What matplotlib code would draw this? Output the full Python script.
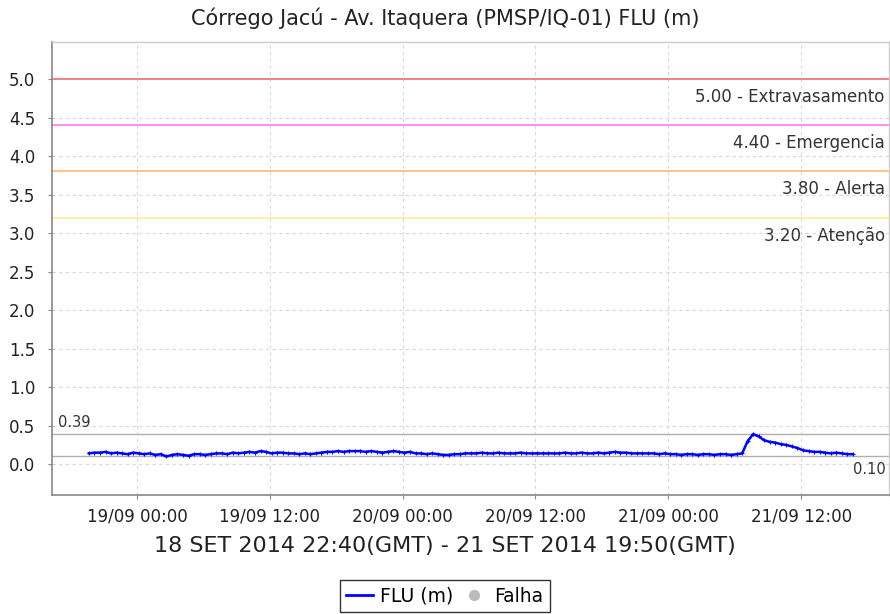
import matplotlib
matplotlib.use("Agg")
import matplotlib.pyplot as plt
import matplotlib.dates as mdates
from matplotlib.lines import Line2D
import pandas as pd
import numpy as np

title = "Córrego Jacú - Av. Itaquera (PMSP/IQ-01) FLU (m)"
xlabel = "18 SET 2014 22:40(GMT) - 21 SET 2014 19:50(GMT)"

start_time = "2014-09-18 19:40"
flu_values = [
    0.14, 0.15, 0.15, 0.16, 0.14, 0.15, 0.14, 0.13, 0.15, 0.14,
    0.13, 0.14, 0.12, 0.13, 0.10, 0.12, 0.13, 0.12, 0.11, 0.13,
    0.13, 0.12, 0.13, 0.14, 0.14, 0.13, 0.15, 0.14, 0.15, 0.16,
    0.15, 0.17, 0.16, 0.14, 0.15, 0.15, 0.14, 0.14, 0.13, 0.14,
    0.13, 0.14, 0.15, 0.16, 0.16, 0.17, 0.16, 0.17, 0.17, 0.17,
    0.16, 0.17, 0.16, 0.15, 0.16, 0.17, 0.16, 0.15, 0.16, 0.14,
    0.14, 0.13, 0.14, 0.13, 0.12, 0.12, 0.13, 0.13, 0.14, 0.14,
    0.14, 0.15, 0.14, 0.14, 0.15, 0.14, 0.14, 0.14, 0.15, 0.14,
    0.14, 0.14, 0.14, 0.14, 0.14, 0.14, 0.15, 0.14, 0.14, 0.15,
    0.14, 0.14, 0.15, 0.14, 0.15, 0.16, 0.15, 0.15, 0.14, 0.14,
    0.14, 0.14, 0.14, 0.13, 0.14, 0.13, 0.13, 0.12, 0.13, 0.13,
    0.12, 0.13, 0.13, 0.12, 0.13, 0.13, 0.12, 0.13, 0.14, 0.30,
    0.39, 0.36, 0.31, 0.29, 0.28, 0.26, 0.25, 0.23, 0.21, 0.18,
    0.17, 0.16, 0.16, 0.15, 0.14, 0.15, 0.14, 0.13, 0.13,
]

threshold_values = [5.00, 4.40, 3.80, 3.20]
threshold_names = ["Extravasamento", "Emergencia", "Alerta", "Atenção"]
threshold_colors = ["#f07070", "#ff77ff", "#ffb878", "#ffee88"]

xtick_labels = ["19/09 00:00", "19/09 12:00", "20/09 00:00",
                "20/09 12:00", "21/09 00:00", "21/09 12:00"]
ytick_values = [0.0, 0.5, 1.0, 1.5, 2.0, 2.5, 3.0, 3.5, 4.0, 4.5, 5.0]

times = pd.date_range(start_time, periods=len(flu_values), freq="30min")
xticks = pd.date_range("2014-09-19 00:00", periods=len(xtick_labels), freq="12h")

fig = plt.figure(figsize=(8.9, 6.14), dpi=100)
ax = fig.add_axes([52/890, 1-495/614, (889-52)/890, (495-42)/614])

ax.set_xlim(pd.Timestamp("2014-09-18 16:20"), pd.Timestamp("2014-09-21 19:56"))
ax.set_ylim(-0.40, 5.48)

# grid
for t in xticks:
    ax.axvline(t, color="#d8d8d8", lw=0.8, ls=(0, (3, 3)), zorder=0)
for v in ytick_values:
    ax.axhline(v, color="#d8d8d8", lw=0.8, ls=(0, (3, 3)), zorder=0)

# thresholds
for v, n, c in zip(threshold_values, threshold_names, threshold_colors):
    ax.axhline(v, color=c, lw=1.2, zorder=1)
    ax.annotate(f"{v:.2f} - {n}", xy=(1, v), xycoords=("axes fraction", "data"),
                xytext=(-3, -6.5), textcoords="offset points", ha="right", va="top",
                fontsize=12, color="#333333")

vmax = max(flu_values)
vmin = min(flu_values)
ax.axhline(vmax, color="#b0b0b0", lw=1.0, zorder=1)
ax.axhline(vmin, color="#b0b0b0", lw=1.0, zorder=1)
ax.annotate(f"{vmax:.2f}", xy=(0, vmax), xycoords=("axes fraction", "data"),
            xytext=(4, 3), textcoords="offset points", ha="left", va="bottom",
            fontsize=10.5, color="#333333")
ax.annotate(f"{vmin:.2f}", xy=(1, vmin), xycoords=("axes fraction", "data"),
            xytext=(-2, -4), textcoords="offset points", ha="right", va="top",
            fontsize=10.5, color="#333333")

ax.plot(times, flu_values, color="#0000ff", lw=1.8, marker="+", ms=3,
        mew=0.8, zorder=3)

ax.set_xticks(xticks)
ax.set_xticklabels(xtick_labels, fontsize=12, color="#222222")
ax.set_yticks(ytick_values)
ax.set_yticklabels([f"{v:.1f}" for v in ytick_values], fontsize=12, color="#222222")
ax.tick_params(axis="both", direction="out", length=3, color="#888888")
ax.tick_params(axis="y", pad=9)
ax.tick_params(axis="x", pad=6)

for s in ["left", "bottom"]:
    ax.spines[s].set_color("#888888")
    ax.spines[s].set_linewidth(1.2)
for s in ["top", "right"]:
    ax.spines[s].set_color("#cccccc")
    ax.spines[s].set_linewidth(1.0)

fig.text(0.5, 1-18/614, title, ha="center", va="center", fontsize=15, color="#222222")
fig.text(0.5, 1-546/614, xlabel, ha="center", va="center", fontsize=16, color="#222222")

handles = [Line2D([0], [0], color="#0000ff", lw=2),
           Line2D([0], [0], color="#bbbbbb", lw=0, marker="o", ms=7)]
leg = fig.legend(handles, ["FLU (m)", "Falha"], loc="center",
                 bbox_to_anchor=(0.5, 1-596/614), ncol=2, frameon=True,
                 fontsize=13.5, handlelength=1.4, handletextpad=0.4,
                 columnspacing=0.4, borderpad=0.35, fancybox=False)
leg.get_frame().set_edgecolor("#000000")
leg.get_frame().set_linewidth(1.0)

fig.savefig("out.png", dpi=100)
